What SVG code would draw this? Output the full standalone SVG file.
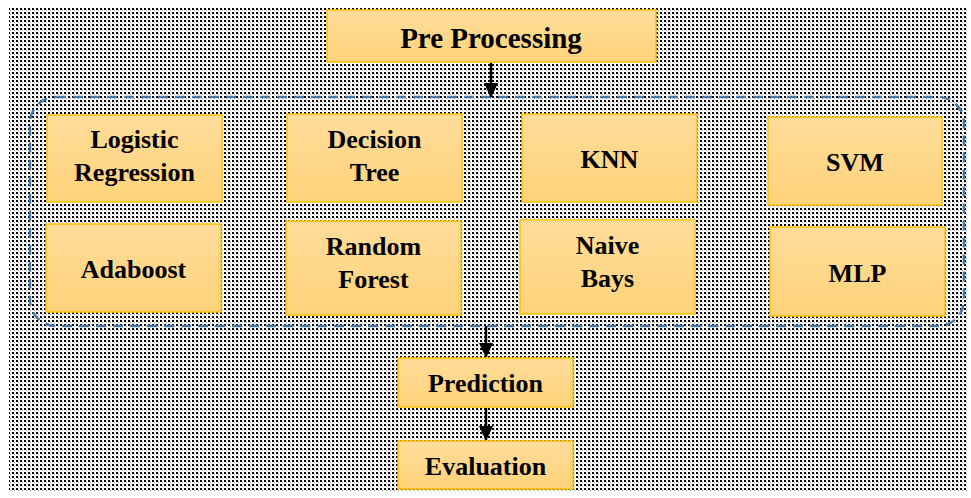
<svg xmlns="http://www.w3.org/2000/svg" width="971" height="498" viewBox="0 0 971 498">
<defs>
<pattern id="dots" x="0" y="0" width="4" height="4" patternUnits="userSpaceOnUse">
<rect width="4" height="4" fill="#ffffff"/>
<rect x="0" y="0" width="2" height="2" fill="#000000"/>
<rect x="2" y="2" width="1" height="1" fill="#9a9a9a"/>
</pattern>
<linearGradient id="boxfill" x1="0" y1="0" x2="0" y2="1">
<stop offset="0" stop-color="#FFDC9A"/>
<stop offset="1" stop-color="#FFD37A"/>
</linearGradient>
<marker id="arrow" viewBox="0 0 15 14" refX="14" refY="7" markerWidth="15" markerHeight="14" orient="auto" markerUnits="userSpaceOnUse">
<path d="M0,0 L15,7 L0,14 z" fill="#000"/>
</marker>
</defs>
<rect x="0" y="0" width="971" height="498" fill="#ffffff"/>
<rect x="9" y="7" width="958" height="484" fill="url(#dots)"/>
<g id="group-box">
<rect x="30" y="97" width="934" height="229" rx="26" ry="26" fill="none" stroke="#4A78A6" stroke-width="2.5" stroke-dasharray="10,7"/>
</g>
<g id="connectors" stroke="#000" stroke-width="2.5" fill="none">
<line x1="491" y1="63" x2="491" y2="97" marker-end="url(#arrow)"/>
<line x1="486" y1="326" x2="486" y2="357" marker-end="url(#arrow)"/>
<line x1="486" y1="408" x2="486" y2="440" marker-end="url(#arrow)"/>
</g>
<g id="preprocessing">
<rect x="327" y="10" width="329" height="52" fill="url(#boxfill)" stroke="#FFC000" stroke-width="1.5"/>
<text x="491" y="48" font-family="Liberation Serif" font-weight="bold" font-size="29" text-anchor="middle">Pre Processing</text>
</g>
<g id="logistic-regression">
<rect x="47" y="115" width="175" height="87" fill="url(#boxfill)" stroke="#FFC000" stroke-width="1.5"/>
<text x="134.5" y="148" font-family="Liberation Serif" font-weight="bold" font-size="26" text-anchor="middle">Logistic</text>
<text x="134.5" y="181" font-family="Liberation Serif" font-weight="bold" font-size="26" text-anchor="middle">Regression</text>
</g>
<g id="decision-tree">
<rect x="287" y="114" width="175" height="88" fill="url(#boxfill)" stroke="#FFC000" stroke-width="1.5"/>
<text x="374.5" y="148" font-family="Liberation Serif" font-weight="bold" font-size="26" text-anchor="middle">Decision</text>
<text x="374.5" y="181" font-family="Liberation Serif" font-weight="bold" font-size="26" text-anchor="middle">Tree</text>
</g>
<g id="knn">
<rect x="522" y="114" width="175" height="88" fill="url(#boxfill)" stroke="#FFC000" stroke-width="1.5"/>
<text x="609.5" y="168" font-family="Liberation Serif" font-weight="bold" font-size="26" text-anchor="middle">KNN</text>
</g>
<g id="svm">
<rect x="768" y="117" width="174" height="88" fill="url(#boxfill)" stroke="#FFC000" stroke-width="1.5"/>
<text x="855" y="171" font-family="Liberation Serif" font-weight="bold" font-size="26" text-anchor="middle">SVM</text>
</g>
<g id="adaboost">
<rect x="46" y="224" width="175" height="88" fill="url(#boxfill)" stroke="#FFC000" stroke-width="1.5"/>
<text x="133.5" y="278" font-family="Liberation Serif" font-weight="bold" font-size="26" text-anchor="middle">Adaboost</text>
</g>
<g id="random-forest">
<rect x="286" y="221" width="175" height="94" fill="url(#boxfill)" stroke="#FFC000" stroke-width="1.5"/>
<text x="373.5" y="255" font-family="Liberation Serif" font-weight="bold" font-size="26" text-anchor="middle">Random</text>
<text x="373.5" y="288" font-family="Liberation Serif" font-weight="bold" font-size="26" text-anchor="middle">Forest</text>
</g>
<g id="naive-bays">
<rect x="520" y="220" width="175" height="94" fill="url(#boxfill)" stroke="#FFC000" stroke-width="1.5"/>
<text x="607.5" y="254" font-family="Liberation Serif" font-weight="bold" font-size="26" text-anchor="middle">Naive</text>
<text x="607.5" y="287" font-family="Liberation Serif" font-weight="bold" font-size="26" text-anchor="middle">Bays</text>
</g>
<g id="mlp">
<rect x="770" y="227" width="175" height="89" fill="url(#boxfill)" stroke="#FFC000" stroke-width="1.5"/>
<text x="857.5" y="282" font-family="Liberation Serif" font-weight="bold" font-size="26" text-anchor="middle">MLP</text>
</g>
<g id="prediction">
<rect x="398" y="358" width="175" height="49" fill="url(#boxfill)" stroke="#FFC000" stroke-width="1.5"/>
<text x="485.5" y="392" font-family="Liberation Serif" font-weight="bold" font-size="26" text-anchor="middle">Prediction</text>
</g>
<g id="evaluation">
<rect x="398" y="441" width="175" height="48" fill="url(#boxfill)" stroke="#FFC000" stroke-width="1.5"/>
<text x="485.5" y="475" font-family="Liberation Serif" font-weight="bold" font-size="26" text-anchor="middle">Evaluation</text>
</g>
</svg>
